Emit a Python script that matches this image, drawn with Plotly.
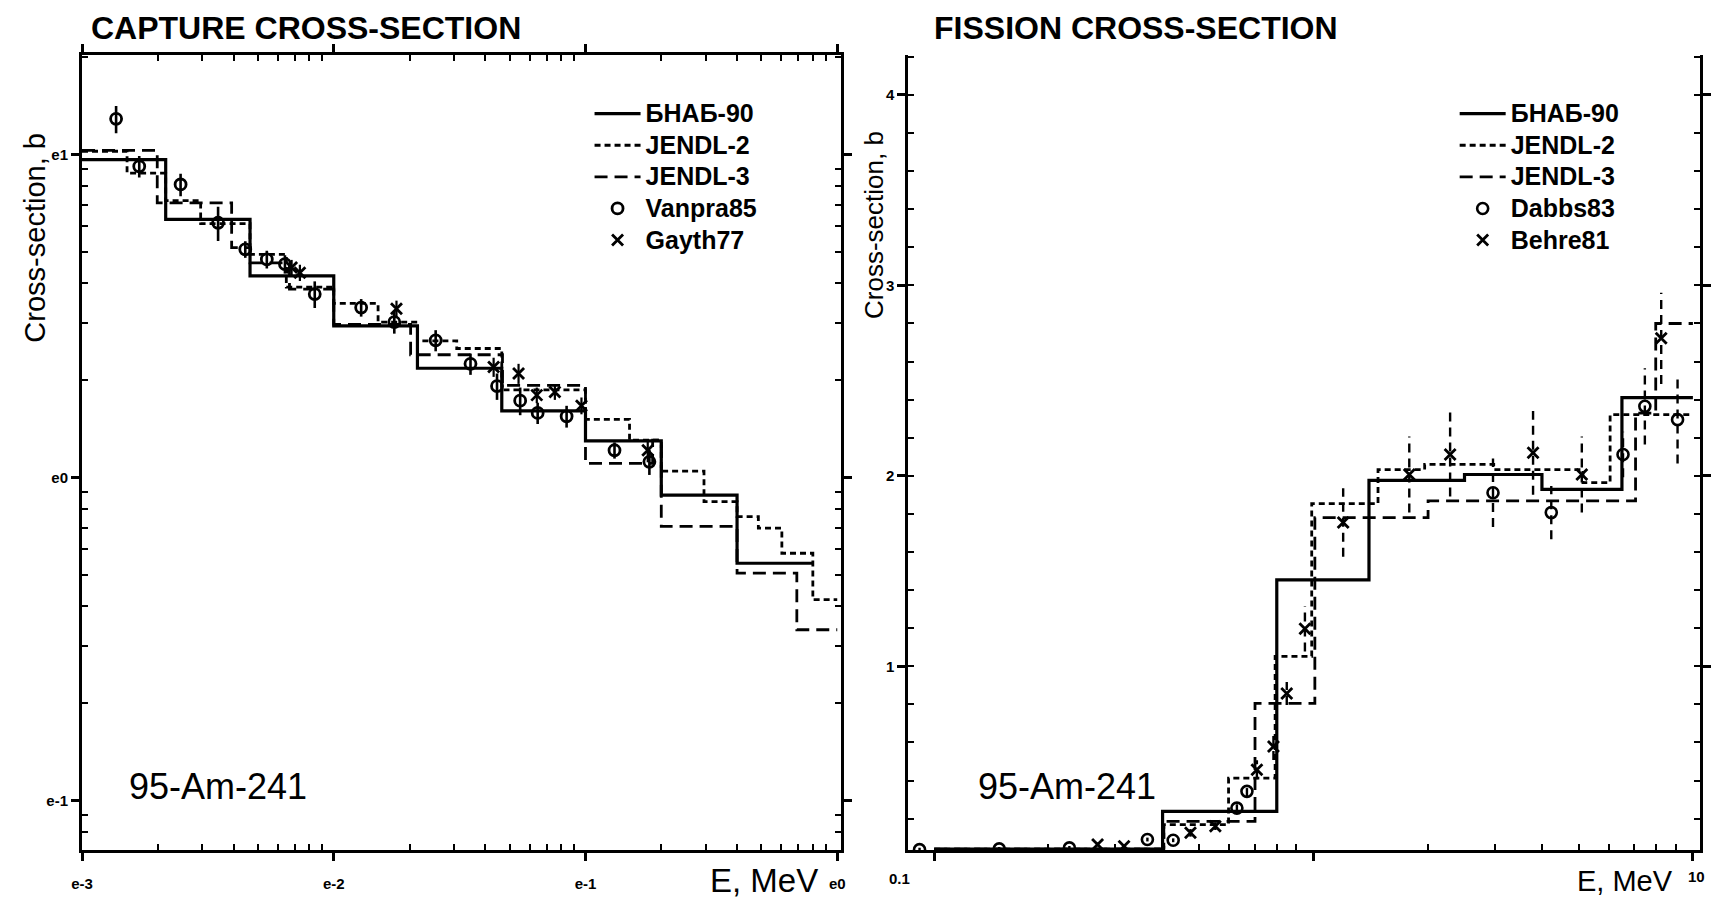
import plotly.graph_objects as go

# ---------------- CAPTURE CROSS-SECTION (95-Am-241) ----------------
# group boundaries (MeV) and step values (barn)
cap_bnab_edges = [0.001, 0.00215, 0.00465, 0.01, 0.0215, 0.0465, 0.1, 0.2, 0.4, 0.8]
cap_bnab_vals = [9.65, 6.30, 4.21, 2.95, 2.18, 1.61, 1.30, 0.883, 0.543]

cap_jendl2_edges = [0.001, 0.00151, 0.00215, 0.00296, 0.00465, 0.00648, 0.01, 0.0150,
                    0.0215, 0.0308, 0.0465, 0.1, 0.1496, 0.2, 0.2956, 0.4, 0.486,
                    0.6026, 0.8, 1.0]
cap_jendl2_vals = [10.24, 8.76, 7.20, 6.11, 4.91, 3.89, 3.46, 3.03, 2.65, 2.51, 1.87,
                   1.514, 1.305, 1.047, 0.842, 0.757, 0.697, 0.583, 0.419]

cap_jendl3_edges = [0.001, 0.00199, 0.00393, 0.00465, 0.00667, 0.01, 0.0202, 0.0468,
                    0.1, 0.1848, 0.2, 0.4, 0.691, 1.0]
cap_jendl3_vals = [10.3, 7.09, 5.15, 4.62, 3.83, 2.98, 2.40, 1.93, 1.106, 1.305,
                   0.706, 0.506, 0.338]

vanpra_E = [0.001366, 0.001688, 0.002464, 0.003472, 0.004452, 0.005422, 0.006400,
            0.008404, 0.01285, 0.01740, 0.02540, 0.03493, 0.04452, 0.05502, 0.06457,
            0.08413, 0.1304, 0.1794]
vanpra_sig = [12.9, 9.20, 8.08, 6.15, 5.09, 4.74, 4.58, 3.70, 3.36, 3.03, 2.66, 2.25,
              1.92, 1.73, 1.585, 1.548, 1.215, 1.119]
vanpra_err = [1.25, 0.70, 0.65, 0.75, 0.30, 0.30, 0.30, 0.35, 0.21, 0.24, 0.20, 0.17,
              0.18, 0.17, 0.12, 0.12, 0.07, 0.10]

gayth_E = [0.006802, 0.007336, 0.01775, 0.04316, 0.05421, 0.06405, 0.07557, 0.09638, 0.1767]
gayth_sig = [4.47, 4.31, 3.33, 2.20, 2.10, 1.80, 1.84, 1.67, 1.215]
gayth_err = [0.25, 0.25, 0.20, 0.15, 0.15, 0.10, 0.10, 0.10, 0.10]

# ---------------- FISSION CROSS-SECTION (95-Am-241) ----------------
fis_bnab_edges = [0.1, 0.4, 0.8, 1.4, 2.5, 4.0, 6.5, 10.0]
fis_bnab_vals = [0.04, 0.238, 1.454, 1.976, 2.007, 1.929, 2.411]

fis_jendl2_edges = [0.1, 0.403, 0.597, 0.792, 0.989, 1.479, 1.963, 2.985, 5.13, 6.05, 10.0]
fis_jendl2_vals = [0.04, 0.168, 0.412, 1.052, 1.854, 2.033, 2.060, 2.033, 1.964, 2.321]

fis_jendl3_edges = [0.1, 0.403, 0.701, 1.008, 2.004, 7.06, 7.98, 10.0]
fis_jendl3_vals = [0.04, 0.185, 0.805, 1.781, 1.868, 2.329, 2.80]

dabbs_E = [0.0915, 0.1484, 0.2272, 0.3648, 0.4266, 0.628, 0.6675, 2.972, 4.233, 6.543, 7.47, 9.11]
dabbs_sig = [0.037, 0.041, 0.046, 0.090, 0.086, 0.255, 0.343, 1.911, 1.807, 2.112, 2.365, 2.295]
dabbs_err = [0.01, 0.01, 0.01, 0.01, 0.01, 0.02, 0.03, 0.18, 0.14, 0.12, 0.20, 0.23]

behre_E = [0.2696, 0.3166, 0.4738, 0.551, 0.709, 0.784, 0.850, 0.949, 1.197, 1.788,
           2.291, 3.79, 5.095, 8.25]
behre_sig = [0.064, 0.055, 0.125, 0.160, 0.456, 0.578, 0.857, 1.197, 1.755, 2.007,
             2.112, 2.121, 2.007, 2.722]
behre_err = [0.01, 0.01, 0.02, 0.02, 0.05, 0.07, 0.06, 0.12, 0.18, 0.20, 0.22, 0.22, 0.20, 0.24]

series_names = ["БНАБ-90", "JENDL-2", "JENDL-3"]
cap_exp_names = ["Vanpra85", "Gayth77"]
fis_exp_names = ["Dabbs83", "Behre81"]
cap_xticks = [0.001, 0.01, 0.1, 1.0]
cap_xticktext = ["e-3", "e-2", "e-1", "e0"]
cap_yticks = [0.1, 1.0, 10.0]
cap_yticktext = ["e-1", "e0", "e1"]
fis_xticks = [0.1, 1.0, 10.0]
fis_xlabel_lo, fis_xlabel_hi = "0.1", "10"
fis_yticks = [1, 2, 3, 4]

# ---------------- layout geometry (pixels) ----------------
W, H = 1723, 904
ML, MR, MT, MB = 82, 12, 55, 51
PW = W - ML - MR
PH = H - MT - MB


def pxx(x):
    return (x - ML) / PW


def pxy(y):
    return (H - MB - y) / PH


FONT = "Liberation Sans, Arial, sans-serif"
BLACK = "black"
LW = 3.2
DASH2 = "6px,4px"
DASH3 = "13px,7px"


def steps(edges, vals):
    return list(edges), list(vals) + [vals[-1]]


def vbars(xs, ys, errs):
    bx, by = [], []
    for x, y, e in zip(xs, ys, errs):
        bx += [x, x, None]
        by += [y - e, y + e, None]
    return bx, by


def lname(s):
    return "<span style='font-size:25px'><b>" + s + "</b></span>"


fig = go.Figure()

# ---- capture panel ----
styles = [dict(width=LW, color=BLACK), dict(width=2.8, color=BLACK, dash=DASH2),
          dict(width=2.8, color=BLACK, dash=DASH3)]
for name, (ed, va), st in zip(series_names,
                              [(cap_bnab_edges, cap_bnab_vals),
                               (cap_jendl2_edges, cap_jendl2_vals),
                               (cap_jendl3_edges, cap_jendl3_vals)], styles):
    sx, sy = steps(ed, va)
    fig.add_trace(go.Scatter(x=sx, y=sy, mode="lines", line_shape="hv", line=st,
                             name=lname(name), legend="legend", xaxis="x", yaxis="y"))

bx, by = vbars(vanpra_E, vanpra_sig, vanpra_err)
fig.add_trace(go.Scatter(x=bx, y=by, mode="lines", line=dict(width=2.6, color=BLACK),
                         showlegend=False, xaxis="x", yaxis="y", hoverinfo="skip"))
bx, by = vbars(gayth_E, gayth_sig, gayth_err)
fig.add_trace(go.Scatter(x=bx, y=by, mode="lines", line=dict(width=2.2, color=BLACK),
                         showlegend=False, xaxis="x", yaxis="y", hoverinfo="skip"))
fig.add_trace(go.Scatter(x=vanpra_E, y=vanpra_sig, mode="markers", name=lname(cap_exp_names[0]),
                         marker=dict(symbol="circle-open", size=11, color=BLACK,
                                     line=dict(width=2.8, color=BLACK)),
                         legend="legend", xaxis="x", yaxis="y"))
fig.add_trace(go.Scatter(x=gayth_E, y=gayth_sig, mode="markers", name=lname(cap_exp_names[1]),
                         marker=dict(symbol="x-thin", size=11, color=BLACK,
                                     line=dict(width=2.8, color=BLACK)),
                         legend="legend", xaxis="x", yaxis="y"))

# ---- fission panel ----
for name, (ed, va), st in zip(series_names,
                              [(fis_bnab_edges, fis_bnab_vals),
                               (fis_jendl2_edges, fis_jendl2_vals),
                               (fis_jendl3_edges, fis_jendl3_vals)], styles):
    sx, sy = steps(ed, va)
    fig.add_trace(go.Scatter(x=sx, y=sy, mode="lines", line_shape="hv", line=st,
                             name=lname(name), legend="legend2", xaxis="x2", yaxis="y2"))

bx, by = vbars(dabbs_E, dabbs_sig, dabbs_err)
fig.add_trace(go.Scatter(x=bx, y=by, mode="lines",
                         line=dict(width=2.4, color=BLACK, dash="9px,6px"),
                         showlegend=False, xaxis="x2", yaxis="y2", hoverinfo="skip"))
bx, by = vbars(behre_E, behre_sig, behre_err)
fig.add_trace(go.Scatter(x=bx, y=by, mode="lines",
                         line=dict(width=2.4, color=BLACK, dash="9px,6px"),
                         showlegend=False, xaxis="x2", yaxis="y2", hoverinfo="skip"))
fig.add_trace(go.Scatter(x=dabbs_E, y=dabbs_sig, mode="markers", name=lname(fis_exp_names[0]),
                         marker=dict(symbol="circle-open", size=11, color=BLACK,
                                     line=dict(width=2.6, color=BLACK)),
                         legend="legend2", xaxis="x2", yaxis="y2"))
fig.add_trace(go.Scatter(x=behre_E, y=behre_sig, mode="markers", name=lname(fis_exp_names[1]),
                         marker=dict(symbol="x-thin", size=11, color=BLACK,
                                     line=dict(width=2.8, color=BLACK)),
                         legend="legend2", xaxis="x2", yaxis="y2"))

tickfont = dict(family=FONT, size=15, color=BLACK, weight="bold")
axis_common = dict(showline=True, linewidth=3, linecolor=BLACK, showgrid=False,
                   zeroline=False, ticks="outside", ticklen=8, tickwidth=2.5,
                   tickcolor=BLACK, tickfont=tickfont)

cap_minor_x = [m * 10 ** p for p in (-3, -2, -1) for m in range(2, 10)]
cap_minor_y = [m * 10 ** p for p in (-2, -1, 0, 1) for m in range(2, 10)]
fis_minor_x = [m * 10 ** p for p in (-1, 0) for m in range(2, 10)]

left_dom = [0, (846 - ML) / PW]
right_dom = [(914 - ML) / PW, 1]

legend_common = dict(xanchor="left", yanchor="top", bgcolor="rgba(0,0,0,0)",
                     borderwidth=0, itemwidth=46, tracegroupgap=0,
                     font=dict(family=FONT, size=22, color=BLACK))

fig.update_layout(
    width=W, height=H,
    margin=dict(l=ML, r=MR, t=MT, b=MB, pad=0),
    paper_bgcolor="white", plot_bgcolor="white",
    font=dict(family=FONT, color=BLACK),
    xaxis=dict(domain=left_dom, type="log", range=[-3.0, 0.0143], mirror="ticks",
               tickmode="array", tickvals=cap_xticks, ticktext=cap_xticktext,
               ticklabelstandoff=10,
               minor=dict(tickmode="array", tickvals=cap_minor_x, ticks="inside",
                          ticklen=6, tickwidth=1.5, tickcolor=BLACK),
               anchor="y", **axis_common),
    yaxis=dict(domain=[0, 1], type="log", range=[-1.153, 1.3083], mirror="ticks",
               tickmode="array", tickvals=cap_yticks, ticktext=cap_yticktext,
               minor=dict(tickmode="array", tickvals=cap_minor_y, ticks="inside",
                          ticklen=6, tickwidth=1.5, tickcolor=BLACK),
               anchor="x", **axis_common),
    xaxis2=dict(domain=right_dom, type="log", range=[-1.068, 1.0187], mirror=False,
                tickmode="array", tickvals=fis_xticks, showticklabels=False,
                minor=dict(tickmode="array", tickvals=fis_minor_x, ticks="inside",
                           ticklen=6, tickwidth=1.5, tickcolor=BLACK),
                anchor="y2", **axis_common),
    yaxis2=dict(domain=[0, 1], range=[0.035, 4.21], mirror="ticks",
                tickmode="array", tickvals=fis_yticks,
                minor=dict(dtick=0.2, ticks="inside", ticklen=6, tickwidth=1.5,
                           tickcolor=BLACK),
                anchor="x2", **axis_common),
    legend=dict(x=pxx(593), y=pxy(93), **legend_common),
    legend2=dict(x=pxx(1464), y=pxy(93), **legend_common),
    showlegend=True,
)

ann = []
ann.append(dict(text="<b>CAPTURE CROSS-SECTION</b>", x=pxx(89), y=pxy(28),
                xanchor="left", yanchor="middle", font=dict(family=FONT, size=32)))
ann.append(dict(text="<b>FISSION CROSS-SECTION</b>", x=pxx(938), y=pxy(28),
                xanchor="left", yanchor="middle", font=dict(family=FONT, size=32)))
ann.append(dict(text="Cross-section, b", x=pxx(35), y=pxy(238), textangle=-90,
                xanchor="center", yanchor="middle", font=dict(family=FONT, size=29)))
ann.append(dict(text="Cross-section, b", x=pxx(880), y=pxy(226), textangle=-90,
                xanchor="center", yanchor="middle", font=dict(family=FONT, size=26)))
ann.append(dict(text="E, MeV", x=pxx(769), y=pxy(884), xanchor="center",
                yanchor="middle", font=dict(family=FONT, size=33)))
ann.append(dict(text="E, MeV", x=pxx(1635), y=pxy(884), xanchor="center",
                yanchor="middle", font=dict(family=FONT, size=29)))
ann.append(dict(text="95-Am-241", x=pxx(219), y=pxy(789), xanchor="center",
                yanchor="middle", font=dict(family=FONT, size=36)))
ann.append(dict(text="95-Am-241", x=pxx(1074), y=pxy(789), xanchor="center",
                yanchor="middle", font=dict(family=FONT, size=36)))
# end labels of the fission energy axis
ann.append(dict(text="<b>" + fis_xlabel_lo + "</b>", x=pxx(905), y=pxy(882),
                xanchor="center", yanchor="middle", font=dict(family=FONT, size=15)))
ann.append(dict(text="<b>" + fis_xlabel_hi + "</b>", x=pxx(1707), y=pxy(880),
                xanchor="center", yanchor="middle", font=dict(family=FONT, size=15)))
for a in ann:
    a.update(xref="paper", yref="paper", showarrow=False)
fig.update_layout(annotations=ann)

fig.write_html("out.html")
